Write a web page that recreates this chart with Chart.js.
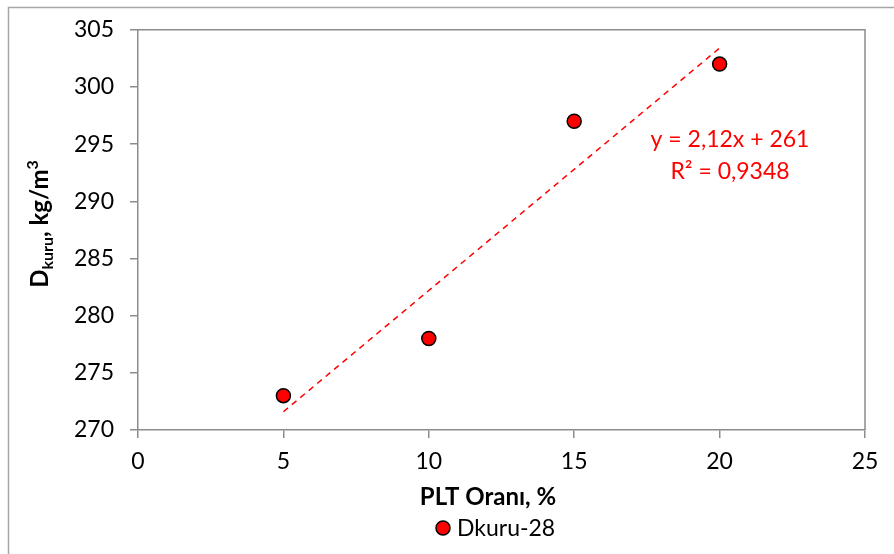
<!DOCTYPE html>
<html>
<head>
<meta charset="utf-8">
<script src="https://cdn.jsdelivr.net/npm/chart.js@4.4.0/dist/chart.umd.min.js"></script>
<style>
  html, body { margin: 0; padding: 0; background: #fff; }
  canvas { display: block; }
</style>
</head>
<body>
<canvas id="chart" width="894" height="554"></canvas>
<script>
"use strict";
// data
var pltRatio = [5, 10, 15, 20];
var densityDry = [273, 278, 297, 302];
var seriesName = 'Dkuru-28';
var trendSlope = 2.12;
var trendIntercept = 261;
var trendText = ['y = 2,12x + 261', 'R\u00b2 = 0,9348'];

var FONT = 'Lato, "Liberation Sans", sans-serif';
var AXIS_GRAY = '#8c8c8c';

var points = pltRatio.map(function (x, i) { return { x: x, y: densityDry[i] }; });
var trendLine = [pltRatio[0], pltRatio[pltRatio.length - 1]].map(function (x) {
    return { x: x, y: trendSlope * x + trendIntercept };
});

// frame, plot border, axis titles, legend and equation label
var decorations = {
    id: 'decorations',
    beforeDraw: function (chart) {
        var ctx = chart.ctx;
        ctx.save();
        ctx.fillStyle = '#fff';
        ctx.fillRect(0, 0, chart.width, chart.height);
        ctx.strokeStyle = '#a6a6a6';
        ctx.lineWidth = 1.5;
        ctx.strokeRect(8.5, 7.5, chart.width + 10, chart.height + 10);
        ctx.restore();
    },
    afterDraw: function (chart) {
        var ctx = chart.ctx;
        var a = chart.chartArea;
        ctx.save();
        // top / right border of plot area
        ctx.strokeStyle = AXIS_GRAY;
        ctx.lineWidth = 1.5;
        ctx.beginPath();
        ctx.moveTo(a.left, a.top);
        ctx.lineTo(a.right, a.top);
        ctx.lineTo(a.right, a.bottom);
        ctx.stroke();

        // x title
        ctx.fillStyle = '#000';
        ctx.font = 'bold 24px ' + FONT;
        ctx.textAlign = 'center';
        ctx.textBaseline = 'middle';
        ctx.fillText('PLT Oran\u0131, %', 488, 497);

        // y title with subscript / superscript
        ctx.translate(40, 224);
        ctx.rotate(-Math.PI / 2);
        var big = 'bold 24px ' + FONT;
        var small = 'bold 16px ' + FONT;
        var parts = [
            { t: 'D', f: big, dy: 0 },
            { t: 'kuru', f: small, dy: 5 },
            { t: ', kg/m', f: big, dy: 0 },
            { t: '3', f: small, dy: -10 }
        ];
        var total = 0;
        parts.forEach(function (p) { ctx.font = p.f; p.w = ctx.measureText(p.t).width; total += p.w; });
        var x = -total / 2;
        ctx.textAlign = 'left';
        ctx.textBaseline = 'alphabetic';
        parts.forEach(function (p) {
            ctx.font = p.f;
            ctx.fillText(p.t, x, 8 + p.dy);
            x += p.w;
        });
        ctx.setTransform(1, 0, 0, 1, 0, 0);

        // equation label
        ctx.fillStyle = '#ff0000';
        ctx.font = '23px ' + FONT;
        ctx.textAlign = 'center';
        ctx.textBaseline = 'middle';
        ctx.fillText(trendText[0], 730, 140);
        ctx.fillText(trendText[1], 730, 172);

        // legend
        ctx.beginPath();
        ctx.arc(443, 528, 7, 0, Math.PI * 2);
        ctx.fillStyle = '#ff0000';
        ctx.fill();
        ctx.lineWidth = 1.5;
        ctx.strokeStyle = '#000';
        ctx.stroke();
        ctx.fillStyle = '#000';
        ctx.font = '23px ' + FONT;
        ctx.textAlign = 'left';
        ctx.fillText(seriesName, 457, 529);
        ctx.restore();
    }
};

var chart = new Chart(document.getElementById('chart'), {
    type: 'scatter',
    data: {
        datasets: [
            {
                label: seriesName,
                data: points,
                backgroundColor: '#ff0000',
                borderColor: '#000',
                borderWidth: 1.5,
                pointRadius: 7,
                order: 1
            },
            {
                type: 'line',
                label: 'trend',
                data: trendLine,
                borderColor: '#ff0000',
                borderWidth: 1.5,
                borderDash: [6, 5],
                pointRadius: 0,
                fill: false,
                order: 2
            }
        ]
    },
    options: {
        responsive: false,
        animation: false,
        devicePixelRatio: 1,
        layout: { padding: { left: 0, top: 27, right: 29, bottom: 0 } },
        plugins: { legend: { display: false }, tooltip: { enabled: false } },
        scales: {
            x: {
                type: 'linear',
                min: 0,
                max: 25,
                ticks: { stepSize: 5, color: '#000', font: { family: FONT, size: 23 }, padding: 10 },
                grid: { drawOnChartArea: false, drawTicks: true, tickLength: 8, color: AXIS_GRAY, lineWidth: 1.5 },
                border: { color: AXIS_GRAY, width: 1.5 },
                afterFit: function (s) { s.height = 124; }
            },
            y: {
                min: 270,
                max: 305,
                ticks: { stepSize: 5, color: '#000', font: { family: FONT, size: 23 }, padding: 16 },
                grid: { drawOnChartArea: false, drawTicks: true, tickLength: 8, color: AXIS_GRAY, lineWidth: 1.5 },
                border: { color: AXIS_GRAY, width: 1.5 },
                afterFit: function (s) { s.width = 138; }
            }
        }
    },
    plugins: [decorations]
});
</script>
</body>
</html>
